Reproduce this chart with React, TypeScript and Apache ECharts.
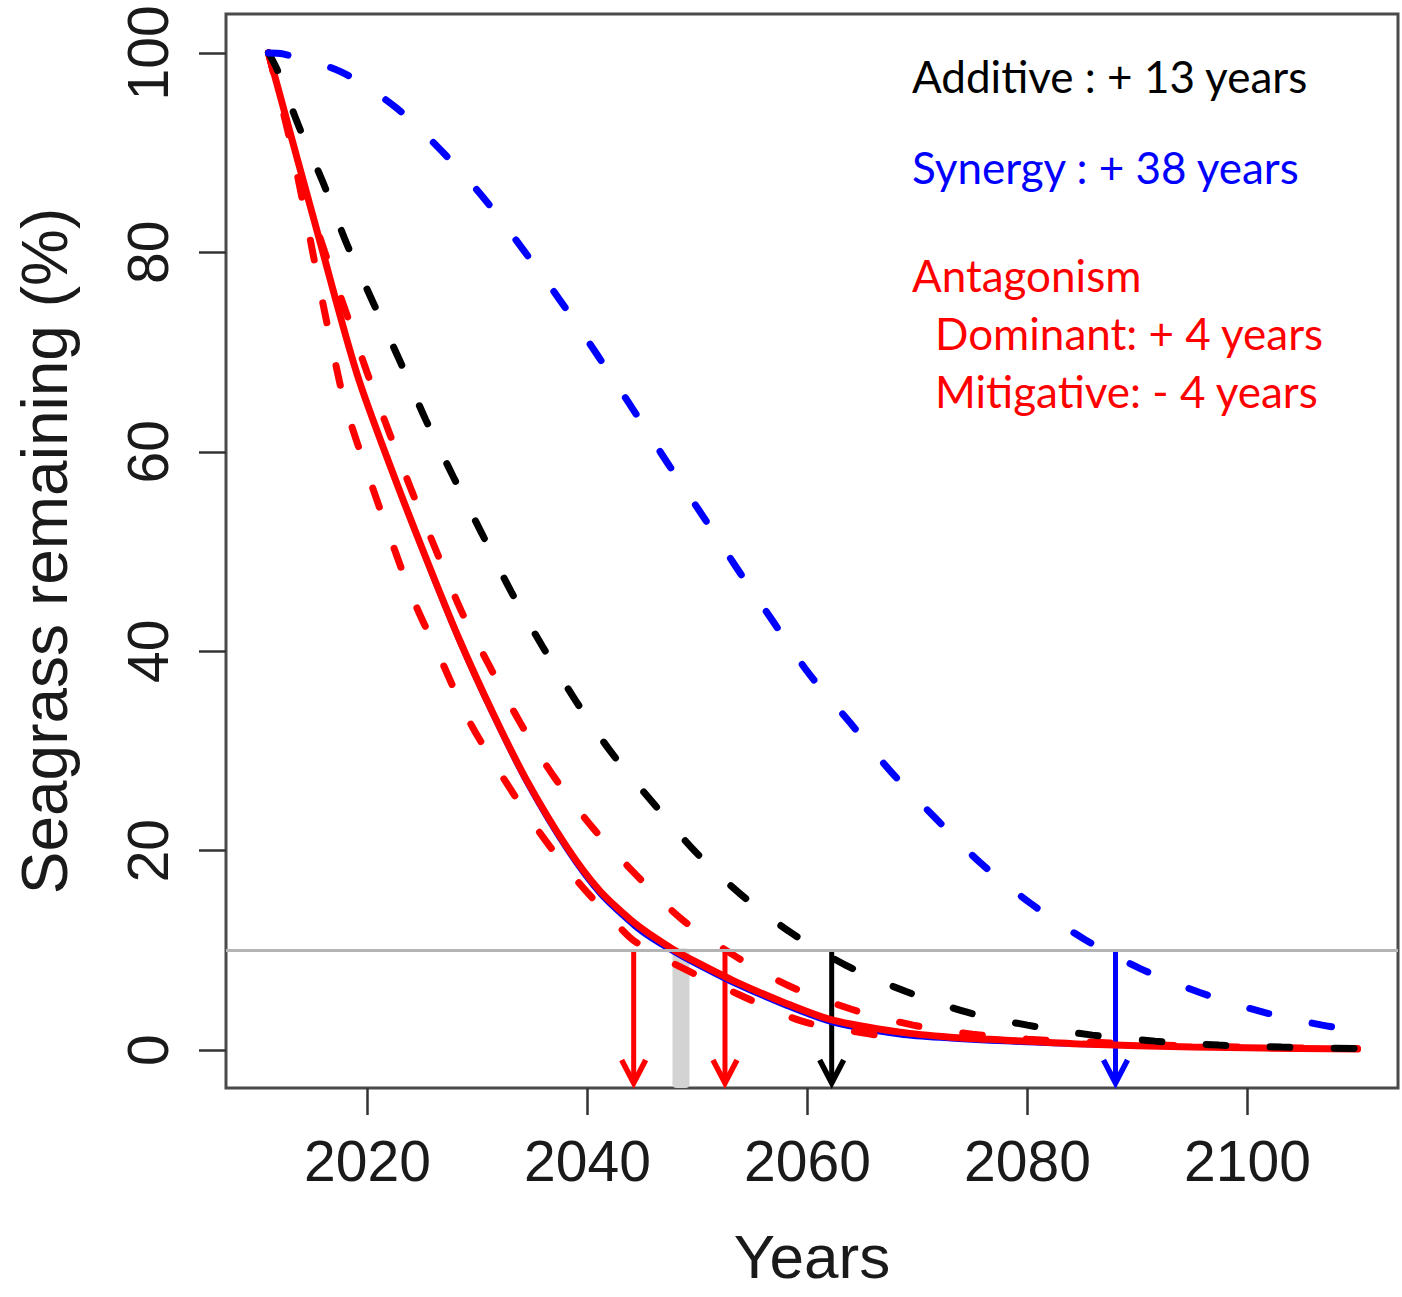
import React, { useEffect, useRef } from "react";
import * as echarts from "echarts";

// ---- axes ----
const xMin = 2007.14;
const xMax = 2113.68;
const yMin = -3.8;
const yMax = 103.9;
const xTicks = [2020, 2040, 2060, 2080, 2100];
const yTicks = [0, 20, 40, 60, 80, 100];

// ---- curves ----
const redSolidYears = [2011, 2015.7, 2019.05, 2022.3, 2025.3, 2028.3, 2031.4, 2034.4, 2038.1, 2041.1, 2044.1, 2045.7, 2047.8, 2049.6, 2053.2, 2057.8, 2062.3, 2068.4, 2073, 2078, 2085, 2095, 2110];
const redSolidValues = [100, 81.0, 67.8, 57.9, 49.4, 41.3, 33.8, 27.2, 20.4, 16.0, 12.9, 11.6, 10.1, 9.0, 7.0, 4.8, 3.0, 1.8, 1.3, 1.0, 0.6, 0.3, 0.1];

const blueSolidYears = [2011, 2015.7, 2019.05, 2022.3, 2025.3, 2028.3, 2031.4, 2034.4, 2038.1, 2041.1, 2044.1, 2045.7, 2047.8, 2049.6, 2053.2, 2057.8, 2062.3, 2068.4, 2073, 2078, 2085, 2095, 2110];
const blueSolidValues = [100, 80.8, 67.5, 57.5, 48.9, 40.8, 33.3, 26.7, 19.9, 15.5, 12.4, 11.1, 9.7, 8.6, 6.6, 4.4, 2.6, 1.4, 1.0, 0.7, 0.4, 0.2, 0.05];

const dominantYears = [2011, 2014.3, 2016.1, 2018.05, 2019.95, 2021.95, 2024.05, 2026.2, 2028.5, 2031.1, 2033.9, 2036.9, 2040.4, 2044.4, 2048.6, 2053.6, 2058.4, 2064.0, 2069.6, 2075, 2080, 2088, 2095, 2110];
const dominantValues = [100, 86.3, 80.1, 74.0, 68.0, 62.0, 56.0, 50.2, 44.1, 38.5, 32.8, 27.5, 22.4, 17.6, 13.1, 9.3, 6.4, 4.1, 2.5, 1.6, 1.1, 0.7, 0.4, 0.15];

const mitigativeYears = [2011, 2013, 2014.6, 2015.5, 2016.8, 2018.0, 2020.0, 2022.0, 2024.2, 2026.7, 2029.2, 2032.0, 2035.6, 2039.2, 2043.2, 2044.3, 2047.6, 2053.9, 2059.5, 2064.6, 2066.3];
const mitigativeValues = [100, 91.0, 82.4, 77.3, 70.4, 64.6, 57.9, 51.6, 45.1, 39.1, 33.1, 27.9, 21.9, 16.8, 12.0, 10.9, 8.8, 5.5, 2.9, 1.8, 1.5];

const additiveYears = [2011, 2011.8, 2013.7, 2016.0, 2018.1, 2020.5, 2022.95, 2025.3, 2027.8, 2030.4, 2033.05, 2035.9, 2038.95, 2042.2, 2045.95, 2049.8, 2053.95, 2058.6, 2063.5, 2068.9, 2074.5, 2080, 2085.9, 2091.6, 2097.4, 2103.1, 2110];
const additiveValues = [100, 98.3, 92.8, 86.9, 80.9, 75.0, 69.1, 63.2, 57.5, 51.8, 46.0, 40.5, 35.0, 29.8, 24.8, 19.9, 15.6, 11.7, 8.5, 5.9, 3.8, 2.5, 1.5, 0.9, 0.5, 0.3, 0.15];

const synergyYears = [2011, 2012.3, 2017.6, 2022.5, 2026.8, 2030.6, 2034.2, 2037.5, 2040.9, 2044.05, 2047.2, 2050.4, 2053.6, 2056.8, 2060.1, 2063.9, 2067.6, 2071.6, 2075.7, 2080.3, 2085.2, 2090.2, 2095.6, 2101.1, 2106.8, 2110];
const synergyValues = [100, 99.9, 98.1, 94.6, 90.1, 85.4, 80.2, 75.2, 69.7, 64.4, 59.0, 53.7, 48.3, 43.1, 37.8, 32.8, 27.9, 23.3, 18.8, 14.7, 11.1, 8.2, 5.8, 3.9, 2.5, 2.0];

// ---- annotations ----
const thresholdValue = 10;
const arrowYears = [2044.2, 2052.5, 2062.2, 2088.0];
const arrowTipValue = -3.3;
const grayBarYear = 2048.5;
const grayBarTop = 10.2;
const noteLines = [
  "Additive : + 13 years",
  "Synergy : + 38 years",
  "Antagonism",
  "Dominant: + 4 years",
  "Mitigative: - 4 years",
];

const RED = "#ff0000";
const BLUE = "#0000ff";
const BLACK = "#000000";
const arrowColors = [RED, RED, BLACK, BLUE];
const noteColors = [BLACK, BLUE, RED, RED, RED];
const noteX = [912, 912, 912, 935, 935];
const noteY = [76, 167, 275, 333, 391];

const zip = (xs: number[], ys: number[]) => xs.map((x, i) => [x, ys[i]]);

const DASH = [20, 44];
const SMOOTH = 0.3;

function dashedLine(name: string, data: number[][], color: string) {
  return {
    name,
    type: "line",
    data,
    showSymbol: false,
    smooth: SMOOTH,
    lineStyle: { color, width: 7, type: DASH, cap: "round" },
    silent: true,
  };
}

export default function App() {
  const ref = useRef<HTMLDivElement>(null);

  useEffect(() => {
    if (!ref.current) return;
    const chart = echarts.init(ref.current, undefined, { renderer: "svg" });
    const labelFont = "Liberation Sans";

    const option: any = {
      animation: false,
      backgroundColor: "#ffffff",
      grid: {
        left: 226,
        top: 14,
        width: 1172,
        height: 1074,
        show: true,
        borderColor: "#4a4a4a",
        borderWidth: 3,
        containLabel: false,
      },
      xAxis: {
        type: "value",
        min: xMin,
        max: xMax,
        name: "Years",
        nameLocation: "middle",
        nameGap: 137,
        nameTextStyle: { fontSize: 62, fontFamily: labelFont, color: "#1a1a1a" },
        axisLine: { show: false, onZero: false },
        axisTick: {
          show: true,
          inside: false,
          length: 27,
          customValues: xTicks,
          lineStyle: { color: "#333", width: 2.5 },
        },
        axisLabel: {
          customValues: xTicks,
          formatter: (v: number) => String(Math.round(v)),
          fontSize: 57,
          fontFamily: labelFont,
          color: "#1a1a1a",
          margin: 44,
        },
        splitLine: { show: false },
      },
      yAxis: {
        type: "value",
        min: yMin,
        max: yMax,
        name: "Seagrass remaining (%)",
        nameLocation: "middle",
        nameGap: 149,
        nameTextStyle: { fontSize: 64, fontFamily: labelFont, color: "#1a1a1a" },
        axisLine: { show: false, onZero: false },
        axisTick: {
          show: true,
          inside: false,
          length: 27,
          customValues: yTicks,
          lineStyle: { color: "#333", width: 2.5 },
        },
        axisLabel: {
          customValues: yTicks,
          formatter: (v: number) => String(Math.round(v)),
          rotate: 90,
          fontSize: 57,
          fontFamily: labelFont,
          color: "#1a1a1a",
          margin: 50,
        },
        splitLine: { show: false },
      },
      series: [
        {
          name: "Blue solid",
          type: "line",
          data: zip(blueSolidYears, blueSolidValues),
          showSymbol: false,
          smooth: SMOOTH,
          lineStyle: { color: BLUE, width: 2.5 },
          silent: true,
          markLine: {
            silent: true,
            symbol: "none",
            label: { show: false },
            lineStyle: { color: "#b4b4b4", width: 3, type: "solid" },
            data: [{ yAxis: thresholdValue }],
          },
        },
        {
          name: "Red solid",
          type: "line",
          data: zip(redSolidYears, redSolidValues),
          showSymbol: false,
          smooth: SMOOTH,
          lineStyle: { color: RED, width: 7, cap: "round" },
          silent: true,
        },
        dashedLine("Mitigative", zip(mitigativeYears, mitigativeValues), RED),
        dashedLine("Dominant", zip(dominantYears, dominantValues), RED),
        dashedLine("Additive", zip(additiveYears, additiveValues), BLACK),
        dashedLine("Synergy", zip(synergyYears, synergyValues), BLUE),
        {
          name: "Gray bar",
          type: "custom",
          silent: true,
          data: [[grayBarYear, grayBarTop, yMin]],
          renderItem: (params: any, api: any) => {
            const p0 = api.coord([api.value(0), api.value(1)]);
            const p1 = api.coord([api.value(0), api.value(2)]);
            return {
              type: "rect",
              shape: { x: p0[0] - 8.5, y: p0[1], width: 17, height: p1[1] - p0[1], r: 4 },
              style: { fill: "#d3d3d3" },
            };
          },
        },
        {
          name: "Arrows",
          type: "custom",
          silent: true,
          data: arrowYears.map((y) => [y, thresholdValue, arrowTipValue]),
          renderItem: (params: any, api: any) => {
            const p0 = api.coord([api.value(0), api.value(1)]);
            const p1 = api.coord([api.value(0), api.value(2)]);
            const color = arrowColors[params.dataIndex];
            return {
              type: "group",
              children: [
                {
                  type: "line",
                  shape: { x1: p0[0], y1: p0[1], x2: p1[0], y2: p1[1] - 3 },
                  style: { stroke: color, lineWidth: 5 },
                },
                {
                  type: "polyline",
                  shape: {
                    points: [
                      [p1[0] - 12, p1[1] - 23],
                      [p1[0], p1[1]],
                      [p1[0] + 12, p1[1] - 23],
                    ],
                  },
                  style: { stroke: color, lineWidth: 5.5, fill: null, lineJoin: "miter" },
                },
              ],
            };
          },
        },
      ],
      graphic: noteLines.map((t, i) => ({
        type: "text",
        x: noteX[i],
        y: noteY[i],
        z: 100,
        style: {
          text: t,
          fill: noteColors[i],
          fontSize: 44,
          fontFamily: "Lato",
          align: "left",
          verticalAlign: "middle",
        },
      })),
    };

    chart.setOption(option);
    return () => chart.dispose();
  }, []);

  return (
    <div
      ref={ref}
      style={{ position: "absolute", left: 0, top: 0, width: 1402, height: 1297 }}
    />
  );
}
